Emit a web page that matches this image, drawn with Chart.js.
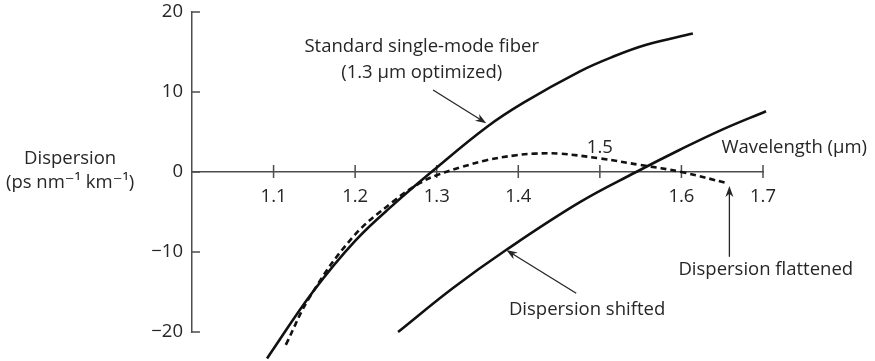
<!DOCTYPE html>
<html>
<head>
<meta charset="utf-8">
<script src="https://cdn.jsdelivr.net/npm/chart.js@4.4.0/dist/chart.umd.min.js"></script>
<style>
  body { margin: 0; background: #fff; }
  #wrap { width: 875px; height: 361px; position: relative; }
</style>
</head>
<body>
<div id="wrap"><canvas id="dispChart"></canvas></div>
<script>
// wavelength (um) / dispersion (ps nm^-1 km^-1)
const smfX = [1.092, 1.148, 1.2, 1.25, 1.2935, 1.361, 1.407, 1.475, 1.516, 1.557, 1.614];
const smfY = [-23.3, -15.0, -8.6, -3.8, 0, 5.6, 8.7, 12.55, 14.4, 15.9, 17.3];

const shiftedX = [1.2526, 1.32, 1.385, 1.475, 1.5445, 1.5975, 1.65, 1.7037];
const shiftedY = [-20.0, -14.5, -9.75, -3.8, 0, 2.75, 5.3, 7.6];

const flatX = [1.115, 1.1445, 1.1975, 1.2465, 1.279, 1.30, 1.33, 1.36, 1.3975, 1.42, 1.45, 1.5, 1.55, 1.6, 1.657];
const flatY = [-21.6, -15.6, -8.1, -3.7, -1.4, -0.4, 0.6, 1.45, 2.1, 2.3, 2.3, 1.7, 0.87, 0, -1.42];

const xTicks = [1.1, 1.2, 1.3, 1.4, 1.5, 1.6, 1.7];
const yTicks = [-20, -10, 0, 10, 20];

const ink = '#262626';
const axisInk = '#4d4d4d';
const font = '"Open Sans", "DejaVu Sans", sans-serif';
const fontSize = 18.5;

function pts(xs, ys) {
    return xs.map((x, i) => ({x: x, y: ys[i]}));
}

// text and arrows, placed in data units
const notes = [
    {text: 'Standard single-mode fiber', x: 1.2816, y: 15.6},
    {text: '(1.3 \u03bcm optimized)', x: 1.2816, y: 12.4},
    {text: '1.5', x: 1.5, y: 3.0},
    {text: 'Wavelength (\u03bcm)', x: 1.7383, y: 3.0},
    {text: 'Dispersion shifted', x: 1.4843, y: -17.25},
    {text: 'Dispersion flattened', x: 1.7034, y: -12.25},
    {text: 'Dispersion', x: 0.8506, y: 1.625},
    {text: '(ps nm\u207b\u00b9 km\u207b\u00b9)', x: 0.8506, y: -1.375}
];
const arrows = [
    {from: [1.2955, 10.25], to: [1.3608, 6.09]},
    {from: [1.471, -15.16], to: [1.3853, -9.75]},
    {from: [1.6588, -10.6], to: [1.6588, -1.75]}
];

function arrow(ctx, x1, y1, x2, y2) {
    const a = Math.atan2(y2 - y1, x2 - x1);
    const len = 11, w = 4;
    const c = Math.cos(a), s = Math.sin(a);
    ctx.beginPath();
    ctx.moveTo(x1, y1);
    ctx.lineTo(x2 - len * 0.6 * c, y2 - len * 0.6 * s);
    ctx.stroke();
    ctx.beginPath();
    ctx.moveTo(x2, y2);
    ctx.lineTo(x2 - len * c + w * s, y2 - len * s - w * c);
    ctx.lineTo(x2 - len * 0.7 * c, y2 - len * 0.7 * s);
    ctx.lineTo(x2 - len * c - w * s, y2 - len * s + w * c);
    ctx.closePath();
    ctx.fill();
}

// no extra room for end labels: the frame is fixed by layout padding
function noPad(s) {
    s.paddingTop = 0;
    s.paddingBottom = 0;
    s.paddingLeft = 0;
    s.paddingRight = 0;
}

const extras = {
    id: 'extras',
    beforeDatasetsDraw(chart) {
        const {ctx, scales: {x, y}} = chart;
        const y0 = y.getPixelForValue(0);
        ctx.save();
        ctx.strokeStyle = axisInk;
        ctx.lineWidth = 1.5;
        ctx.beginPath();
        xTicks.forEach(v => {
            const px = x.getPixelForValue(v);
            ctx.moveTo(px, y0 - 7);
            ctx.lineTo(px, y0 + 6);
        });
        yTicks.forEach(v => {
            const py = y.getPixelForValue(v);
            ctx.moveTo(x.left, py);
            ctx.lineTo(x.left + 8, py);
        });
        ctx.stroke();
        ctx.restore();
    },
    afterDatasetsDraw(chart) {
        const {ctx, scales: {x, y}} = chart;
        ctx.save();
        ctx.strokeStyle = ink;
        ctx.fillStyle = ink;
        ctx.lineWidth = 1.3;
        arrows.forEach(a => {
            arrow(ctx, x.getPixelForValue(a.from[0]), y.getPixelForValue(a.from[1]),
                x.getPixelForValue(a.to[0]), y.getPixelForValue(a.to[1]));
        });
        ctx.font = fontSize + 'px ' + font;
        ctx.textAlign = 'center';
        ctx.textBaseline = 'middle';
        notes.forEach(n => {
            ctx.fillText(n.text, x.getPixelForValue(n.x), y.getPixelForValue(n.y));
        });
        ctx.restore();
    }
};

const ctx = document.getElementById('dispChart');
new Chart(ctx, {
    type: 'line',
    data: {
        datasets: [{
            label: 'Standard single-mode fiber',
            data: pts(smfX, smfY),
            borderColor: '#111',
            borderWidth: 2.6,
            tension: 0.4,
            pointRadius: 0,
            clip: false
        }, {
            label: 'Dispersion shifted',
            data: pts(shiftedX, shiftedY),
            borderColor: '#111',
            borderWidth: 2.6,
            tension: 0.4,
            pointRadius: 0,
            clip: false
        }, {
            label: 'Dispersion flattened',
            data: pts(flatX, flatY),
            borderColor: '#111',
            borderWidth: 2.6,
            borderDash: [6, 4],
            tension: 0.4,
            pointRadius: 0,
            clip: false
        }]
    },
    options: {
        responsive: true,
        maintainAspectRatio: false,
        animation: false,
        layout: {
            padding: {left: 142, right: 112, top: 12, bottom: 29}
        },
        plugins: {
            legend: {display: false},
            tooltip: {enabled: false}
        },
        scales: {
            x: {
                type: 'linear',
                min: 1.0,
                max: 1.7,
                position: {y: 0},
                grid: {display: false, drawTicks: false},
                border: {display: true, color: axisInk, width: 1.5},
                afterBuildTicks: s => { s.ticks = xTicks.map(v => ({value: v})); },
                afterFit: noPad,
                ticks: {
                    padding: 14,
                    color: ink,
                    font: {family: font, size: fontSize},
                    autoSkip: false,
                    maxRotation: 0,
                    callback: v => (v === 1.5 ? '' : v.toFixed(1))
                }
            },
            y: {
                type: 'linear',
                min: -20,
                max: 20,
                position: 'left',
                grid: {display: false, drawTicks: false},
                border: {display: true, color: axisInk, width: 1.5},
                afterBuildTicks: s => { s.ticks = yTicks.map(v => ({value: v})); },
                afterFit: s => { s.width = 50; noPad(s); },
                ticks: {
                    padding: 9,
                    color: ink,
                    font: {family: font, size: fontSize},
                    callback: v => String(v).replace('-', '\u2212')
                }
            }
        }
    },
    plugins: [extras]
});
</script>
</body>
</html>
